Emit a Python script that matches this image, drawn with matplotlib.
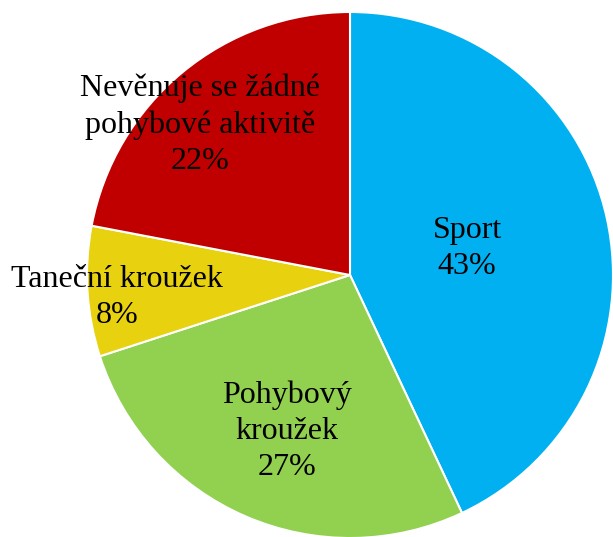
import matplotlib
matplotlib.use("Agg")
import matplotlib.pyplot as plt

categories = ["Sport", "Pohybový\nkroužek", "Taneční kroužek", "Nevěnuje se žádné\npohybové aktivitě"]
values = [43, 27, 8, 22]
colors = ["#00B0F0", "#92D050", "#E8D20F", "#C00000"]

# label anchor positions (in radius units)
label_pos = [(0.445, 0.10), (-0.24, -0.595), (-0.886, -0.085), (-0.57, 0.57)]

fig = plt.figure(figsize=(6.13, 5.37), dpi=100)
ax = fig.add_axes([87/613, -1/537, 526/613, 526/537])
wedges, _ = ax.pie(values, colors=colors, startangle=90, counterclock=False,
                   radius=1.0, wedgeprops=dict(edgecolor="white", linewidth=1.5))
ax.set_xlim(-1, 1)
ax.set_ylim(-1, 1)
ax.set_aspect("equal")
ax.axis("off")

for cat, val, (x, y) in zip(categories, values, label_pos):
    ax.text(x, y, f"{cat}\n{val}%", ha="center", va="center", fontsize=23,
            family="Liberation Serif", linespacing=1.32, clip_on=False)

fig.savefig("out.png", dpi=100)
